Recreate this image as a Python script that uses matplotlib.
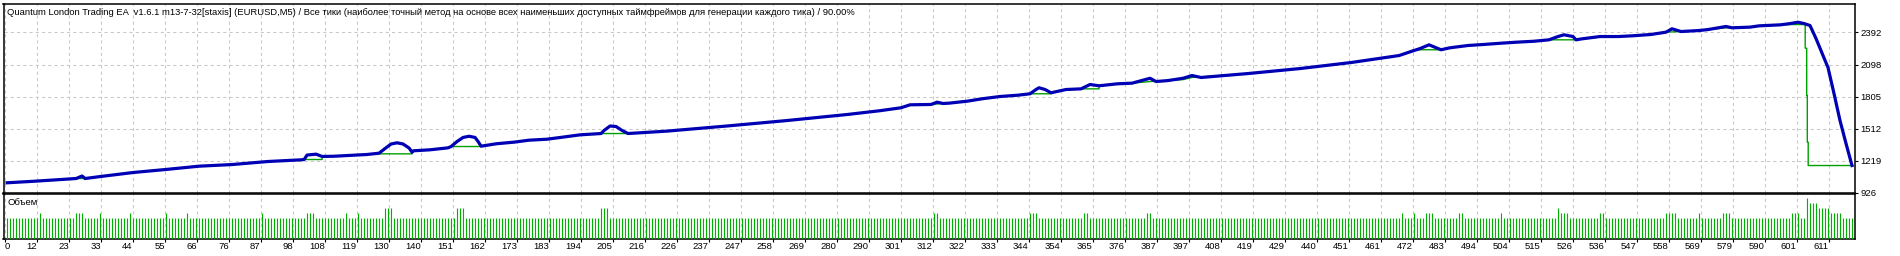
import matplotlib
matplotlib.use("Agg")
import matplotlib.pyplot as plt
import numpy as np

# ---------------- data ----------------
title = ("Quantum London Trading EA  v1.6.1 m13-7-32[staxis] (EURUSD,M5) / Все тики "
         "(наиболее точный метод на основе всех наименьших доступных таймфреймов для "
         "генерации каждого тика) / 90.00%")
volume_label = "Объем"

x_labels = ["0", "12", "23", "33", "44", "55", "66", "76", "87", "98", "108", "119", "130",
            "140", "151", "162", "173", "183", "194", "205", "216", "226", "237", "247",
            "258", "269", "280", "290", "301", "312", "322", "333", "344", "354", "365",
            "376", "387", "397", "408", "419", "429", "440", "451", "461", "472", "483",
            "494", "504", "515", "526", "536", "547", "558", "569", "579", "590", "601", "611"]
y_ticks = [926, 1219, 1512, 1805, 2098, 2392]

eq_bar = [0, 9, 18, 23, 25, 26, 31, 42, 53, 64, 75, 87, 98, 99, 100, 103, 105, 109, 120,
          124, 126, 128, 130, 132, 134, 135, 135.5, 141, 147, 148, 150, 152, 154, 156, 157,
          158, 163, 169, 174, 180, 185, 191, 198, 199, 201, 203, 205, 207, 220, 240, 260,
          280, 291, 298, 301, 308, 310, 312, 314, 320, 325, 331, 337, 341, 343, 344, 346,
          348, 353, 358, 361, 364, 370, 375, 381, 383, 387, 392, 395, 398, 414, 431, 448,
          464, 469, 471, 474, 478, 481, 487, 492, 498, 503, 509, 514, 517, 519, 522, 523,
          525, 531, 537, 542, 548, 553, 555, 558, 564, 567, 573, 575, 581, 584, 591, 594,
          597, 599, 601, 603, 607, 609, 611, 613, 615]
eq_val = [1015, 1029, 1045, 1054, 1077, 1054, 1072, 1109, 1137, 1167, 1182, 1210, 1225, 1228,
          1269, 1277, 1256, 1258, 1274, 1286, 1329, 1370, 1381, 1370, 1333, 1295, 1308, 1317,
          1335, 1347, 1393, 1430, 1441, 1430, 1393, 1350, 1372, 1387, 1405, 1414, 1432, 1454,
          1466, 1494, 1535, 1530, 1494, 1466, 1488, 1535, 1585, 1640, 1675, 1702, 1729, 1732,
          1753, 1741, 1744, 1762, 1784, 1805, 1817, 1830, 1869, 1885, 1869, 1839, 1869, 1875,
          1915, 1903, 1921, 1927, 1972, 1942, 1951, 1972, 1997, 1979, 2016, 2061, 2116, 2180,
          2226, 2244, 2278, 2233, 2251, 2272, 2281, 2293, 2302, 2311, 2324, 2354, 2370, 2354,
          2324, 2333, 2354, 2354, 2361, 2373, 2394, 2425, 2400, 2409, 2418, 2446, 2434, 2440,
          2452, 2461, 2471, 2485, 2473, 2455, 2336, 2070, 1832, 1585, 1375, 1173]

bal_bar = [0, 9, 18, 23, 26, 31, 42, 53, 64, 75, 87, 98, 99, 105, 105, 109, 120, 124, 135,
           135, 135.5, 141, 147, 148, 158, 158, 163, 169, 174, 180, 185, 191, 198, 207, 220,
           240, 260, 280, 291, 298, 301, 308, 312, 314, 320, 325, 331, 337, 341, 348, 348,
           353, 358, 364, 364, 370, 375, 381, 387, 392, 395, 414, 431, 448, 464, 469, 478,
           481, 487, 492, 498, 503, 509, 514, 523, 525, 531, 537, 542, 548, 553, 558, 564,
           567, 573, 581, 584, 591, 592, 599.4, 599.4, 599.9, 599.9, 600.1, 600.1, 600.4,
           600.4, 615.3]
bal_val = [1015, 1029, 1045, 1054, 1054, 1072, 1109, 1137, 1167, 1182, 1210, 1225, 1228, 1228,
           1256, 1258, 1274, 1280, 1280, 1295, 1308, 1317, 1335, 1347, 1347, 1350, 1372, 1387,
           1405, 1414, 1432, 1454, 1466, 1466, 1488, 1535, 1585, 1640, 1675, 1702, 1729, 1732,
           1741, 1744, 1762, 1784, 1805, 1817, 1830, 1830, 1839, 1869, 1875, 1875, 1903, 1921,
           1927, 1942, 1951, 1960, 1979, 2016, 2061, 2116, 2180, 2233, 2233, 2251, 2272, 2281,
           2293, 2302, 2311, 2324, 2324, 2333, 2354, 2354, 2361, 2373, 2394, 2400, 2409, 2418,
           2434, 2440, 2452, 2461, 2464, 2464, 2247, 2247, 1814, 1814, 1387, 1387, 1173, 1173]

n_bars = 616
vol_spikes = {11: 5, 23: 5, 24: 5, 25: 5, 31: 5, 41: 5, 53: 5, 60: 5, 85: 5, 100: 5, 101: 5,
              102: 5, 113: 5, 117: 5, 126: 6, 127: 6, 128: 6, 150: 6, 151: 6, 152: 6,
              198: 6, 199: 6, 200: 6, 309: 5, 310: 5, 341: 5, 342: 5, 343: 5, 359: 5,
              360: 5, 380: 5, 381: 5, 465: 5, 469: 5, 473: 5, 474: 5,
              475: 5, 484: 5, 485: 5, 498: 5, 517: 6, 518: 5, 519: 5, 520: 5, 531: 5, 532: 5,
              553: 5, 554: 5, 555: 5, 556: 5, 564: 5, 572: 5, 573: 5, 574: 5, 595: 5, 596: 5,
              597: 5, 600: 8, 601: 7, 602: 7, 603: 7, 604: 6, 605: 6, 606: 6, 607: 6, 608: 5,
              609: 5, 610: 5, 611: 5}
volume = [vol_spikes.get(i, 4) for i in range(n_bars)]

# ---------------- layout ----------------
W, H, DPI = 1900, 256, 100
fig = plt.figure(figsize=(W / DPI, H / DPI), dpi=DPI)
fig.patch.set_facecolor("white")
plt.rcParams["font.family"] = ["Liberation Sans", "DejaVu Sans"]

def px_axes(l, t, r, b):
    return fig.add_axes([l / W, 1 - b / H, (r - l) / W, (b - t) / H])

ax = px_axes(3.5, 4, 1855, 192.5)
axv = px_axes(3.5, 194, 1855, 238.5)

XMIN, XMAX = -1.2, 616
grid_pos = np.arange(len(x_labels)) * 32 / 3 - 0.8
GRID = dict(color="#c8c8c8", linestyle=(0, (3, 3)), linewidth=0.75)

# main panel
ax.set_xlim(XMIN, XMAX)
step = y_ticks[1] - y_ticks[0]
ax.set_ylim(y_ticks[0], y_ticks[0] + step * (188.5 / 32))
ax.set_xticks(grid_pos)
ax.tick_params(axis="x", length=0, labelbottom=False)
ax.yaxis.tick_right()
ax.set_yticks(y_ticks)
ax.set_yticklabels([str(v) for v in y_ticks])
ax.tick_params(axis="y", length=2.5, width=0.8, pad=1.5, labelsize=6.8, direction="out")
ax.grid(True, **GRID)
ax.set_axisbelow(True)
for s in ax.spines.values():
    s.set_linewidth(1.1)
    s.set_color("black")

ax.plot(bal_bar, bal_val, color="#00a000", lw=1.0, zorder=3)
ax.plot(eq_bar, eq_val, color="#0000b4", lw=2.3, zorder=4, solid_joinstyle="round")

ax.text(0.0018, 0.955, title, transform=ax.transAxes, fontsize=6.75,
        va="center", ha="left", color="black")

# volume panel
axv.set_xlim(XMIN, XMAX)
axv.set_ylim(0, 8.8)
axv.vlines(np.arange(n_bars), 0, volume, color="#00b000", lw=0.8, zorder=3)
axv.set_yticks([])
axv.set_xticks(grid_pos)
axv.set_xticklabels(x_labels)
axv.tick_params(axis="x", length=2, width=0.8, pad=0.5, labelsize=6.8, direction="out")
labs = axv.get_xticklabels()
for i, t in enumerate(labs):
    t.set_ha("left" if i == 0 else "right")
axv.grid(True, axis="x", **GRID)
axv.set_axisbelow(True)
for s in axv.spines.values():
    s.set_linewidth(1.1)
    s.set_color("black")
axv.text(0.0024, 0.8, volume_label, transform=axv.transAxes, fontsize=6.8,
         va="center", ha="left", color="black")

fig.savefig("out.png", dpi=DPI, facecolor="white")
